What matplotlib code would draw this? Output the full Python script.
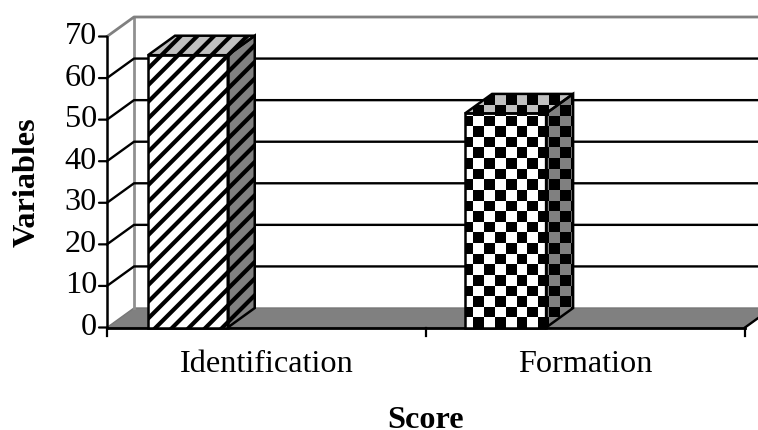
import numpy as np
import matplotlib
matplotlib.use("Agg")
import matplotlib.pyplot as plt
from matplotlib.patches import Polygon

plt.rcParams["font.family"] = ["Liberation Serif", "DejaVu Serif"]
plt.rcParams["hatch.linewidth"] = 3.0

categories = ["Identification", "Formation"]
scores = [65.5, 51.5]
y_ticks = [0, 10, 20, 30, 40, 50, 60, 70]

FONT = 23.2
W, H = 758, 430
# plot box in pixels, left/right/bottom/top
X0, X1, Y0, Y1 = 107, 745, 327.5, 36.5

fig = plt.figure(figsize=(W / 100, H / 100), dpi=100)
ax = fig.add_axes([X0 / W, 1 - Y0 / H, (X1 - X0) / W, (Y0 - Y1) / H])
ax.set_xlim(0, 2)
ax.set_ylim(0, 70)
ax.axis("off")

# depth of the fake 3d box, in data units
dx = 27 / ((X1 - X0) / 2)
dy = 19.5 / ((Y0 - Y1) / 70)
BAR_LEFT = 0.1285
BAR_W = 0.25


def quad(pts, **kw):
    p = Polygon(pts, closed=True, clip_on=False, **kw)
    ax.add_patch(p)
    return p


def checker(patch, anchor, right, top, cell_w, cell_h, z):
    # black squares on a transparent background, cut to the face
    left = anchor - 2 * cell_w
    nx = int(np.ceil((right - left) / cell_w))
    ny = int(np.ceil(top / cell_h))
    yy, xx = np.indices((ny, nx))
    img = np.zeros((ny, nx, 4))
    img[..., 3] = (xx + yy + 1) % 2
    im = ax.imshow(img, extent=(left, left + nx * cell_w, 0, ny * cell_h),
                   origin="lower", aspect="auto", interpolation="nearest", zorder=z)
    im.set_clip_path(patch)


# floor
quad([(0, 0), (2, 0), (2 + dx, dy), (dx, dy)], facecolor="#808080", edgecolor="#777777", lw=1, zorder=1)

# back wall edges and gridlines
ax.plot([dx, dx], [dy, 70 + dy], color="#909090", lw=2, clip_on=False, zorder=2)
ax.plot([0, dx, 2.2], [70, 70 + dy, 70 + dy], color="#808080", lw=2, clip_on=False, zorder=2)
for t in y_ticks[1:-1]:
    ax.plot([0, dx, 2.2], [t, t + dy, t + dy], color="black", lw=1.7, clip_on=False, zorder=2)

# axes lines and ticks
ax.plot([0, 0], [0, 70], color="black", lw=1.8, clip_on=False, zorder=3)
ax.plot([0, 2], [0, 0], color="black", lw=2, clip_on=False, zorder=3)
ax.plot([2, 2 + dx], [0, dy], color="black", lw=1.7, clip_on=False, zorder=3)
for t in y_ticks:
    ax.annotate("", (0, t), xytext=(-8, 0), textcoords="offset pixels",
                arrowprops=dict(arrowstyle="-", color="black", lw=1.6, shrinkA=0, shrinkB=0))
    ax.text(-0.031, t, str(t), ha="right", va="center", fontsize=FONT, clip_on=False)
for i in range(3):
    ax.plot([i, i], [0, -8 * 70 / (Y0 - Y1)], color="black", lw=1.6, clip_on=False, zorder=3)
for i, name in enumerate(categories):
    ax.text(i + 0.5, -8.9, name, ha="center", va="center", fontsize=FONT)

fig.text(426 / W, 1 - 428 / H, "Score", ha="center", va="baseline", fontsize=FONT, fontweight="bold")
fig.text(27 / W, 1 - 182.5 / H, "Variables", ha="center", va="center", rotation=90,
         fontsize=FONT, fontweight="bold")

# first bar: diagonal stripes
left = BAR_LEFT
right = left + BAR_W
v = scores[0]
faces = [
    ([(left, 0), (right, 0), (right, v), (left, v)], "white"),
    ([(right, 0), (right + dx, dy), (right + dx, v + dy), (right, v)], "#808080"),
    ([(left, v), (right, v), (right + dx, v + dy), (left + dx, v + dy)], "#c0c0c0"),
]
for pts, col in faces:
    quad(pts, facecolor=col, edgecolor="black", hatch="//", lw=0, zorder=4)
for pts, col in faces:
    quad(pts, fill=False, edgecolor="black", lw=1.8, zorder=6)

# second bar: checkerboard
left = 1 + BAR_LEFT - 0.006
right = left + BAR_W + 0.004
v = scores[1]
cw = 10.9 / ((X1 - X0) / 2)
ch = 10.6 / ((Y0 - Y1) / 70)
anchor = (473 - X0) / ((X1 - X0) / 2)
faces = [
    ([(left, 0), (right, 0), (right, v), (left, v)], "white"),
    ([(right, 0), (right + dx, dy), (right + dx, v + dy), (right, v)], "#808080"),
    ([(left, v), (right, v), (right + dx, v + dy), (left + dx, v + dy)], "#c0c0c0"),
]
for pts, col in faces:
    face = quad(pts, facecolor=col, edgecolor="none", zorder=4)
    checker(face, anchor, right + dx + cw, v + dy + ch, cw, ch, 5)
for pts, col in faces:
    quad(pts, fill=False, edgecolor="black", lw=1.8, zorder=6)

ax.set_xlim(0, 2)
ax.set_ylim(0, 70)
fig.savefig("out.png", dpi=100)
